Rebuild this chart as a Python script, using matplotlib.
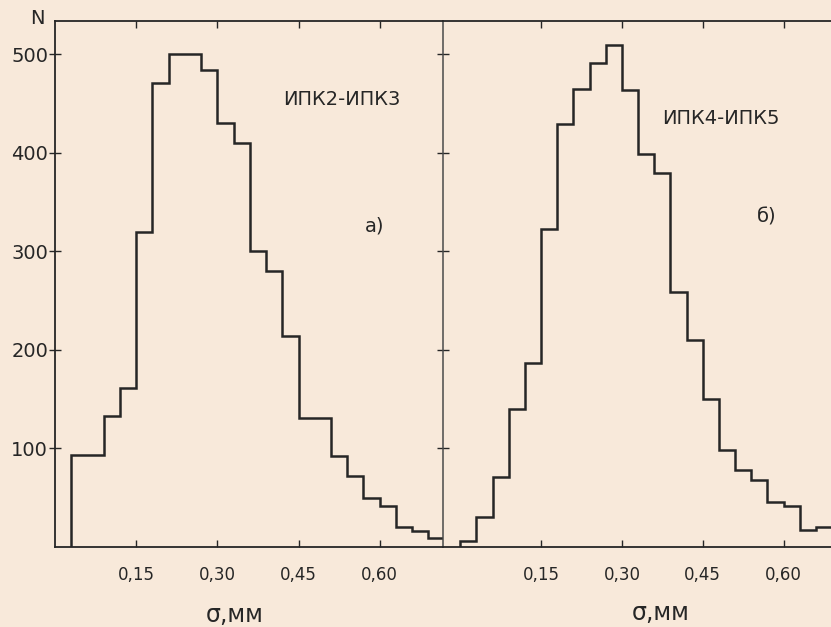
import matplotlib
matplotlib.use("Agg")
import matplotlib.pyplot as plt
import numpy as np

# ---------------------------------------------------------------------------
# Data (counts N per sigma bin, bin width 0.03 mm)
# ---------------------------------------------------------------------------
edgesA = np.round(np.arange(0.03, 0.7201, 0.03), 2)
countsA = [93, 93, 133, 161, 320, 471, 500, 500, 484, 430, 410, 301,
           280, 214, 131, 131, 92, 72, 50, 42, 20, 16, 9]

edgesB = np.round(np.arange(0.0, 0.6901, 0.03), 2)
countsB = [6, 30, 71, 140, 187, 323, 429, 465, 491, 510, 464, 399,
           380, 259, 210, 150, 98, 78, 68, 46, 42, 17, 20]

xticks = [0.15, 0.30, 0.45, 0.60]
xtickLabels = ["0,15", "0,30", "0,45", "0,60"]
yticks = [100, 200, 300, 400, 500]

# ---------------------------------------------------------------------------

BG = "#f8e9da"
INK = "#262626"

plt.rcParams['font.family'] = ['DejaVu Sans']

fig = plt.figure(figsize=(8.31, 6.27), dpi=100, facecolor=BG)
W, H = 831.0, 627.0
axA = fig.add_axes([55 / W, (H - 547) / H, (443 - 55) / W, (547 - 21) / H])
axB = fig.add_axes([443 / W, (H - 547) / H, (831 - 443) / W, (547 - 21) / H])

for ax in (axA, axB):
    ax.set_facecolor(BG)
    ax.set_ylim(0, 534)
    for s in ax.spines.values():
        s.set_color(INK)
        s.set_linewidth(1.3)
    ax.set_xticks(xticks)
    ax.set_xticklabels(xtickLabels, fontsize=12, color=INK)
    ax.tick_params(axis='x', direction='in', length=5, width=1.0,
                   top=True, pad=14, colors=INK)

# right panel drawn without its own background so the divider stays visible
axB.patch.set_visible(False)
axA.set_zorder(1)
axA.patch.set_visible(False)
fig.patch.set_facecolor(BG)

axA.stairs(countsA, edgesA, baseline=0, color=INK, linewidth=1.8)
axA.set_xlim(0, 0.717)
axA.set_yticks(yticks)
axA.set_yticklabels([str(v) for v in yticks], fontsize=14, color=INK)
axA.tick_params(axis='y', direction='inout', length=8, width=1.0,
                right=True, pad=1, colors=INK)
axA.spines['right'].set_color("#4a4a4a")
axA.spines['right'].set_linewidth(1.1)
axA.text(0.74, 0.85, "ИПК2-ИПК3", transform=axA.transAxes, ha='center',
         va='center', fontsize=14, color=INK)
axA.text(0.825, 0.61, "а)", transform=axA.transAxes, ha='center',
         va='center', fontsize=14, color=INK)
axA.text(0.464, -0.13, "σ,мм", transform=axA.transAxes, ha='center',
         va='center', fontsize=17, color=INK)

axB.stairs(countsB, edgesB, baseline=0, color=INK, linewidth=1.8)
axB.set_xlim(-0.032, 0.688)
axB.set_yticks([])
axB.spines['left'].set_visible(False)
axB.spines['right'].set_visible(False)
axB.text(0.717, 0.815, "ИПК4-ИПК5", transform=axB.transAxes, ha='center',
         va='center', fontsize=14, color=INK)
axB.text(0.835, 0.627, "б)", transform=axB.transAxes, ha='center',
         va='center', fontsize=14, color=INK)
axB.text(0.562, -0.125, "σ,мм", transform=axB.transAxes, ha='center',
         va='center', fontsize=17, color=INK)

fig.text(37 / W, 1 - 19 / H, "N", ha='center', va='center', fontsize=14,
         color=INK)

fig.savefig("out.png", dpi=100, facecolor=BG)
